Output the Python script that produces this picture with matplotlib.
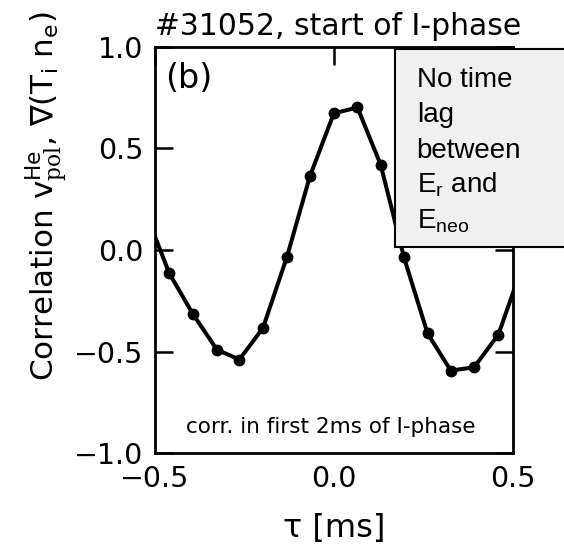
import matplotlib
matplotlib.use("Agg")
import matplotlib.pyplot as plt
from matplotlib.patches import Rectangle
from matplotlib.ticker import FuncFormatter

plt.rcParams['font.family'] = 'DejaVu Sans'
plt.rcParams['mathtext.fontset'] = 'dejavuserif'

# time lag [ms] and correlation
tau = [-0.525, -0.460, -0.394, -0.327, -0.264, -0.198, -0.131, -0.067, 0.0,
       0.066, 0.131, 0.196, 0.262, 0.327, 0.392, 0.460, 0.525]
corr = [0.18, -0.115, -0.315, -0.49, -0.539, -0.383, -0.033, 0.362, 0.672,
        0.701, 0.419, -0.036, -0.41, -0.593, -0.577, -0.416, -0.09]

x_ticks = [-0.5, 0.0, 0.5]
y_ticks = [-1.0, -0.5, 0.0, 0.5, 1.0]

title = "#31052, start of I-phase"
panel = "(b)"
note = "corr. in first 2ms of I-phase"
box_lines = ["No time", "lag", "between",
             r"E$\mathregular{_r}$ and", r"E$\mathregular{_{neo}}$"]


def fmt(v, pos):
    return ("%.1f" % v).replace("-", "\u2212")


fig = plt.figure(figsize=(5.64, 5.44), dpi=100)
ax = fig.add_axes([0.2748, 0.1667, 0.6342, 0.7475])

ax.plot(tau, corr, color='black', lw=2.9, marker='o', ms=7.5)

ax.set_xlim(-0.5, 0.5)
ax.set_ylim(-1.0, 1.0)
ax.set_xticks(x_ticks)
ax.set_yticks(y_ticks)
ax.xaxis.set_major_formatter(FuncFormatter(fmt))
ax.yaxis.set_major_formatter(FuncFormatter(fmt))

for s in ax.spines.values():
    s.set_linewidth(2)
ax.tick_params(axis='both', direction='in', length=13, width=1.8,
               labelsize=20.5, pad=8.5)
ax.tick_params(axis='x', bottom=False, top=True, labelbottom=True)
ax.tick_params(axis='y', left=True, right=True)

ax.set_title(title, loc='left', fontsize=21.5, pad=8.4)
ax.set_xlabel("τ [ms]", fontsize=23)
ax.xaxis.set_label_coords(0.5, -0.148)
ax.set_ylabel(r"Correlation v$^{\mathregular{He}}_{\mathrm{pol}}$, ∇(T$_{\mathregular{i}}$ n$_{\mathregular{e}}$)",
              fontsize=22.3)
ax.yaxis.set_label_coords(-0.238, 0.632)

ax.text(0.028, 0.962, panel, transform=ax.transAxes, fontsize=24,
        va='top', ha='left')
ax.text(0.49, 0.065, note, transform=ax.transAxes, fontsize=15.5,
        va='center', ha='center')

# annotation box over the top right corner
W, H = 564.0, 544.0
fig.add_artist(Rectangle((395 / W, 1 - 247 / H), 200 / W, (247 - 49.3) / H,
                         transform=fig.transFigure, facecolor='#f0f0f0',
                         edgecolor='black', lw=1.5, zorder=10))
for i, line in enumerate(box_lines):
    fig.text(416.7 / W, 1 - (86.7 + 35.4 * i) / H, line,
             family='Liberation Sans', fontsize=20, va='baseline',
             ha='left', zorder=11)

fig.savefig("out.png", dpi=100)
